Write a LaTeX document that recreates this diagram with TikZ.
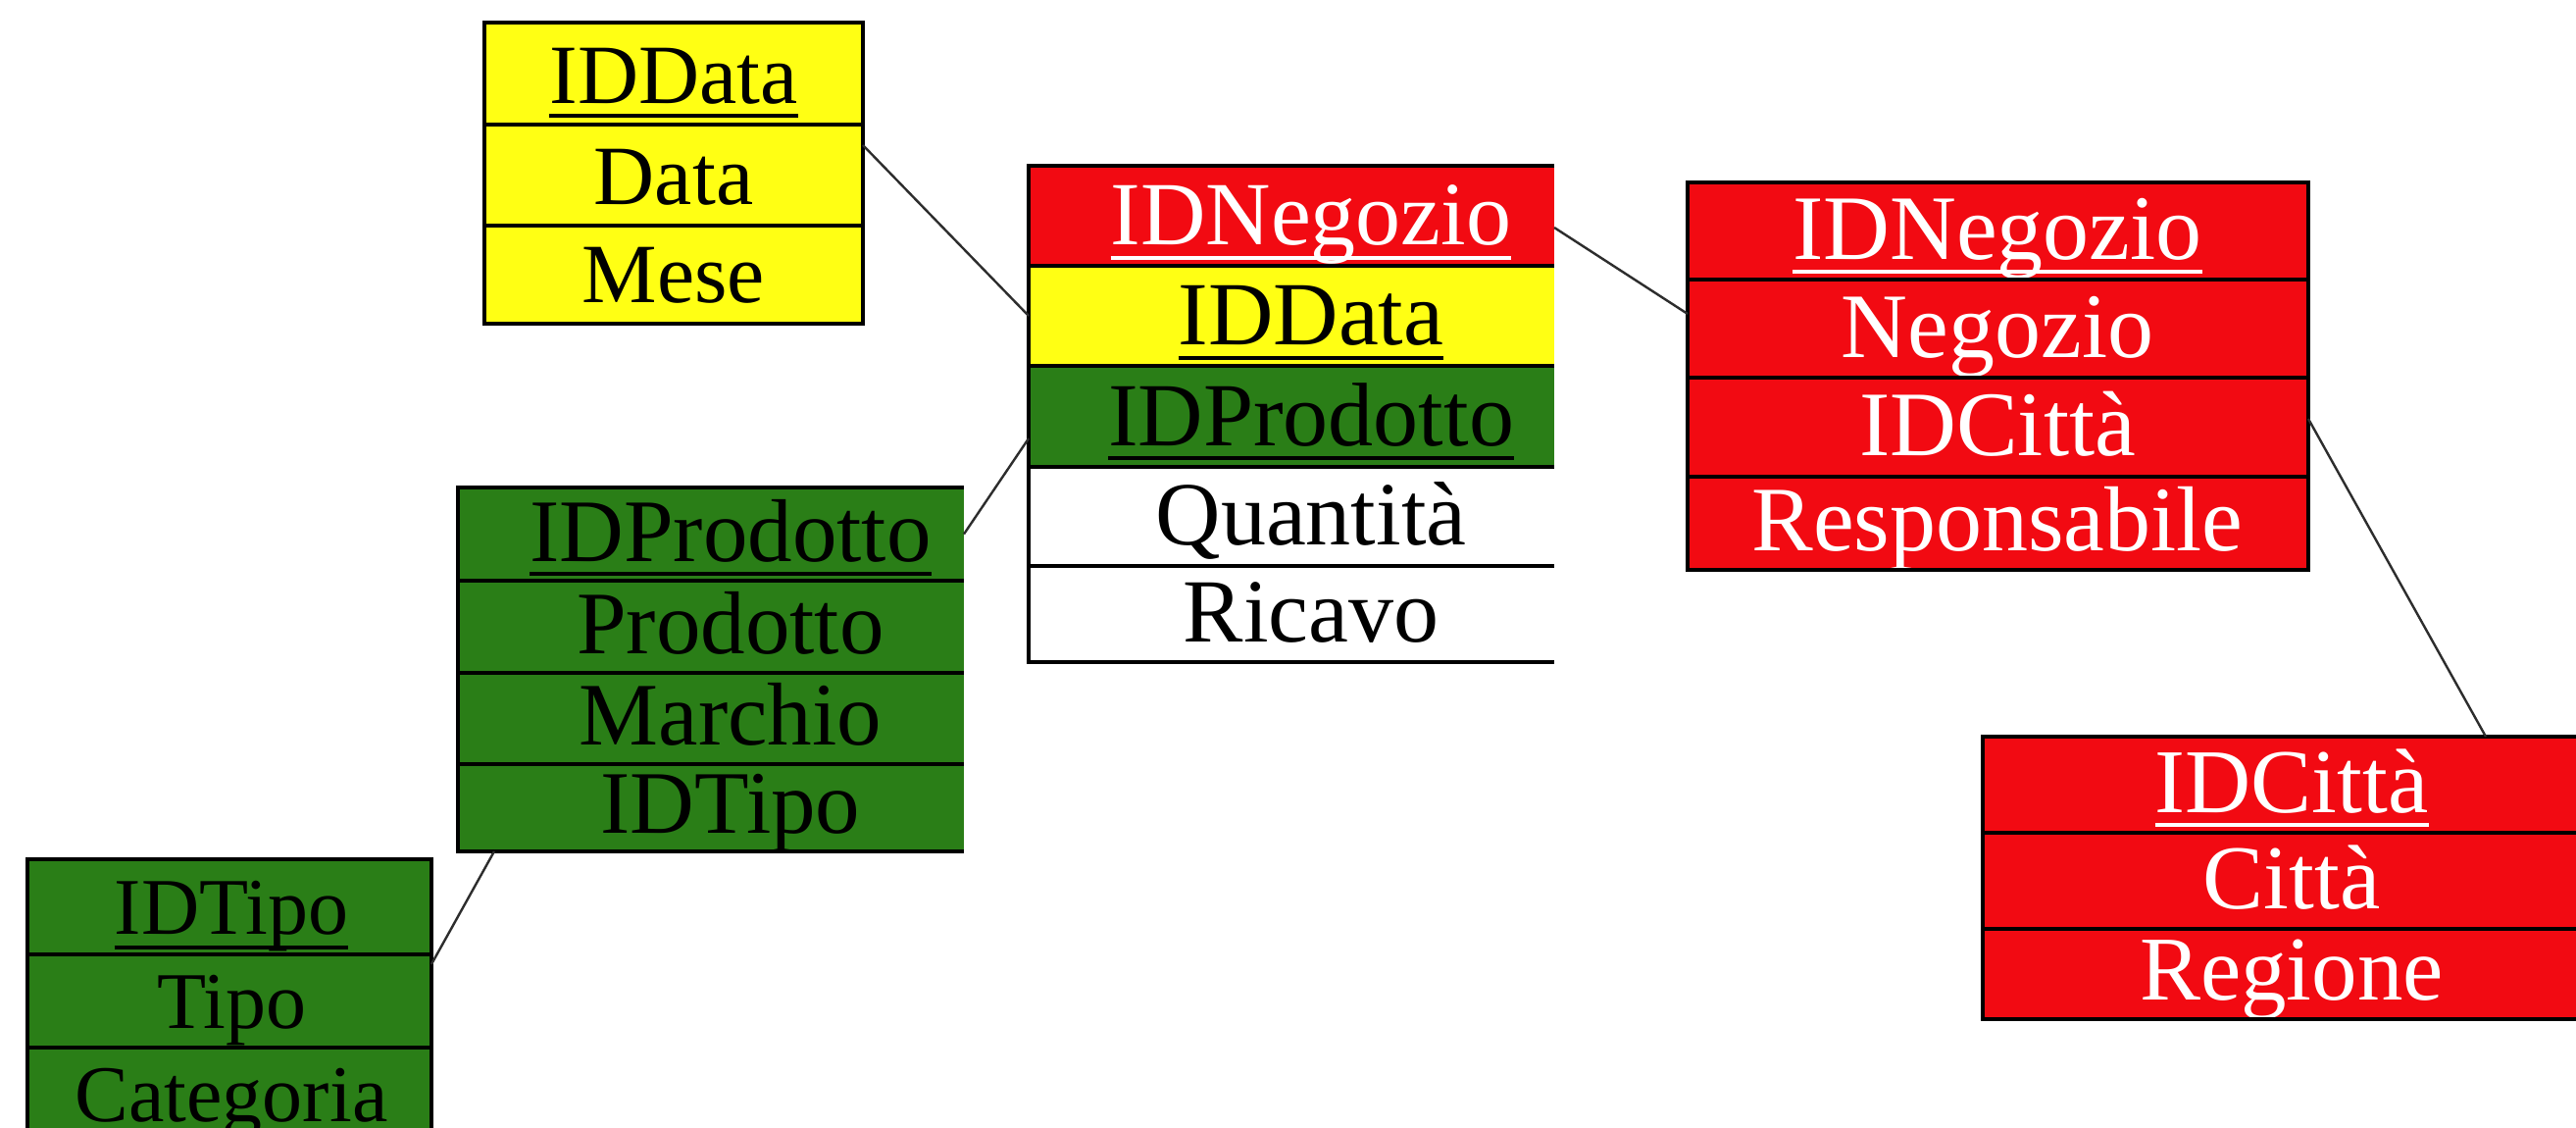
\documentclass[tikz,border=0pt]{standalone}
\usepackage{fontspec}
\setmainfont{Liberation Serif}
\usetikzlibrary{calc}

\definecolor{dimred}{RGB}{242,10,18}
\definecolor{dimyellow}{RGB}{255,255,20}
\definecolor{dimgreen}{RGB}{42,126,23}
\definecolor{linkgray}{RGB}{45,45,45}

% one table row: name, left x, top y, width, height, fill, text colour, text x, text
\newcommand\tcell[9]{%
  \node[cellbg, fill=#6, minimum width={#4*0.5pt}, minimum height={#5*0.5pt}] (#1) at (#2,#3) {};
  \node[celltext, text=#7] (#1t) at (#8,{#3+0.79*#5}) {#9};
}
% underline of a key attribute
\newcommand\keyline[2]{%
  \draw[keyrule, draw=#2] ([yshift=-6.5pt]#1t.base west) -- ([yshift=-6.5pt]#1t.base east);
}

\begin{document}
\begin{tikzpicture}[x=0.5pt, y=-0.5pt,
  cellbg/.style={rectangle, inner sep=0pt, outer sep=0pt, anchor=north west, draw=none},
  celltext/.style={inner sep=0pt, outer sep=0pt, anchor=base},
  frame/.style={draw=black, line width=2.4pt},
  sep/.style={draw=black, line width=2.2pt},
  keyrule/.style={line width=2pt},
  link/.style={draw=linkgray, line width=1.2pt}]

\useasboundingbox (0,0) rectangle (2627,1150);
\clip (0,0) rectangle (2627,1150);
\fill[white] (0,0) rectangle (2627,1150);

% ---- Tempo
\begin{scope}[celltext/.append style={font=\fontsize{43}{48}\selectfont}]
  \tcell{d1}{494}{23}{386}{104}{dimyellow}{black}{687}{IDData}
  \tcell{d2}{494}{127}{386}{103}{dimyellow}{black}{687}{Data}
  \tcell{d3}{494}{230}{386}{100}{dimyellow}{black}{687}{Mese}
  \keyline{d1}{black}
\end{scope}
\draw[frame] (d1.north west) rectangle (d3.south east);
\draw[sep] (d2.north west) -- (d2.north east);
\draw[sep] (d3.north west) -- (d3.north east);

% ---- Vendite (fatti)
\begin{scope}[celltext/.append style={font=\fontsize{46}{50}\selectfont}]
  \tcell{f1}{1049}{169}{536}{102}{dimred}{white}{1337}{IDNegozio}
  \tcell{f2}{1049}{271}{536}{102}{dimyellow}{black}{1337}{IDData}
  \tcell{f3}{1049}{373}{536}{103}{dimgreen}{black}{1337}{IDProdotto}
  \tcell{f4}{1049}{476}{536}{101}{white}{black}{1337}{Quantità}
  \tcell{f5}{1049}{577}{536}{98}{white}{black}{1337}{Ricavo}
  \keyline{f1}{white}
  \keyline{f2}{black}
  \keyline{f3}{black}
\end{scope}
\draw[frame] (f1.north east) -- (f1.north west) -- (f5.south west) -- (f5.south east);
\foreach \c in {f2,f3,f4,f5} \draw[sep] (\c.north west) -- (\c.north east);

% ---- Prodotto
\begin{scope}[celltext/.append style={font=\fontsize{45.5}{50}\selectfont}]
  \tcell{p1}{467}{497}{516}{95}{dimgreen}{black}{745}{IDProdotto}
  \tcell{p2}{467}{592}{516}{94}{dimgreen}{black}{745}{Prodotto}
  \tcell{p3}{467}{686}{516}{93}{dimgreen}{black}{745}{Marchio}
  \tcell{p4}{467}{779}{516}{89}{dimgreen}{black}{745}{IDTipo}
  \keyline{p1}{black}
\end{scope}
\draw[frame] (p1.north east) -- (p1.north west) -- (p4.south west) -- (p4.south east);
\foreach \c in {p2,p3,p4} \draw[sep] (\c.north west) -- (\c.north east);

% ---- Tipo
\begin{scope}[celltext/.append style={font=\fontsize{41}{46}\selectfont}]
  \tcell{t1}{28}{876}{412}{97}{dimgreen}{black}{236}{IDTipo}
  \tcell{t2}{28}{973}{412}{95}{dimgreen}{black}{236}{Tipo}
  \tcell{t3}{28}{1068}{412}{95}{dimgreen}{black}{236}{Categoria}
  \keyline{t1}{black}
\end{scope}
\draw[frame] (t1.north west) rectangle (t3.south east);
\foreach \c in {t2,t3} \draw[sep] (\c.north west) -- (\c.north east);

% ---- Negozio
\begin{scope}[celltext/.append style={font=\fontsize{47}{52}\selectfont}]
  \tcell{n1}{1721}{186}{633}{99}{dimred}{white}{2037}{IDNegozio}
  \tcell{n2}{1721}{285}{633}{100}{dimred}{white}{2037}{Negozio}
  \tcell{n3}{1721}{385}{633}{101}{dimred}{white}{2037}{IDCittà}
  \tcell{n4}{1721}{486}{633}{95}{dimred}{white}{2037}{Responsabile}
  \keyline{n1}{white}
\end{scope}
\draw[frame] (n1.north west) rectangle (n4.south east);
\foreach \c in {n2,n3,n4} \draw[sep] (\c.north west) -- (\c.north east);

% ---- Città
\begin{scope}[celltext/.append style={font=\fontsize{46.5}{51}\selectfont}]
  \tcell{c1}{2022}{751}{640}{98}{dimred}{white}{2337}{IDCittà}
  \tcell{c2}{2022}{849}{640}{98}{dimred}{white}{2337}{Città}
  \tcell{c3}{2022}{947}{640}{92}{dimred}{white}{2337}{Regione}
  \keyline{c1}{white}
\end{scope}
\draw[frame] (c1.north west) rectangle (c3.south east);
\foreach \c in {c2,c3} \draw[sep] (\c.north west) -- (\c.north east);

% ---- links between tables
\draw[link] ([yshift=-10.5pt]d2.north east) -- (f2.west);
\draw[link] (p1.east) -- ([yshift=-37pt]f3.north west);
\draw[link] ([xshift=18.5pt]p4.south west) -- ([yshift=-5pt]t2.north east);
\draw[link] ([yshift=-6pt]f1.east) -- ([yshift=-17.5pt]n2.north west);
\draw[link] ([yshift=-21pt]n3.north east) -- ([xshift=256.5pt]c1.north west);

\end{tikzpicture}
\end{document}
